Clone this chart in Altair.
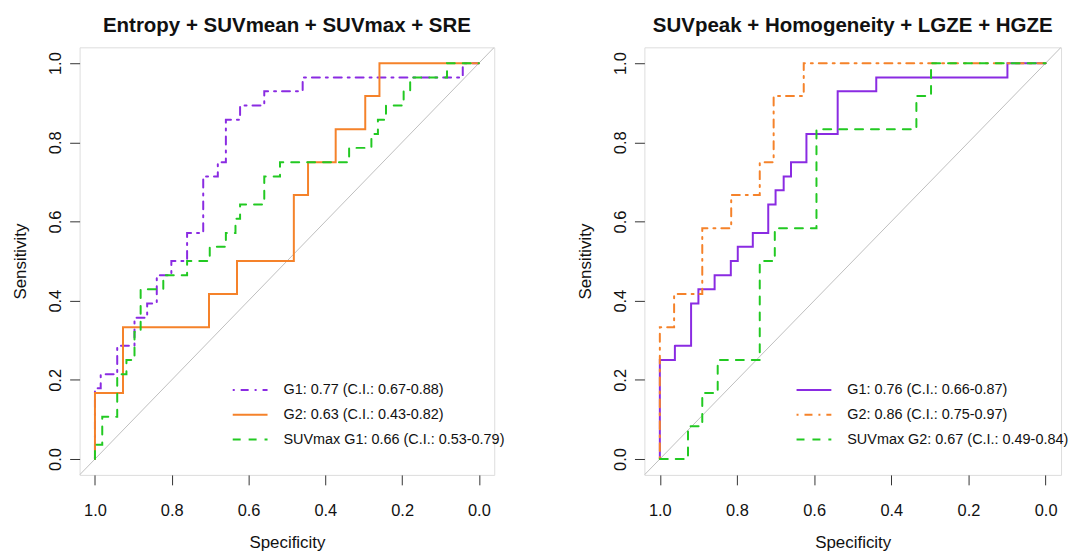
import altair as alt
import pandas as pd

FONT = "Liberation Sans"

# ---------------- data (specificity, sensitivity vertices of ROC curves) ----------------
# Left panel: Entropy + SUVmean + SUVmax + SRE
L_LABELS = ["G1: 0.77 (C.I.: 0.67-0.88)", "G2: 0.63 (C.I.: 0.43-0.82)", "SUVmax G1: 0.66 (C.I.: 0.53-0.79)"]

L_G1_SPEC = [1.0, 1.0, 0.985, 0.985, 0.942, 0.942, 0.897, 0.897, 0.864, 0.864, 0.839, 0.839,
             0.801, 0.801, 0.760, 0.760, 0.718, 0.718, 0.680, 0.680, 0.659, 0.659, 0.622, 0.622,
             0.559, 0.559, 0.459, 0.459, 0.042, 0.042, 0.0]
L_G1_SENS = [0.0, 0.179, 0.179, 0.214, 0.214, 0.286, 0.286, 0.357, 0.357, 0.393, 0.393, 0.464,
             0.464, 0.5, 0.5, 0.571, 0.571, 0.714, 0.714, 0.75, 0.75, 0.857, 0.857, 0.893,
             0.893, 0.929, 0.929, 0.964, 0.964, 1.0, 1.0]

L_G2_SPEC = [1.0, 1.0, 0.927, 0.927, 0.703, 0.703, 0.630, 0.630, 0.482, 0.482, 0.445, 0.445,
             0.373, 0.373, 0.296, 0.296, 0.259, 0.259, 0.0]
L_G2_SENS = [0.0, 0.167, 0.167, 0.333, 0.333, 0.417, 0.417, 0.5, 0.5, 0.667, 0.667, 0.75,
             0.75, 0.833, 0.833, 0.917, 0.917, 1.0, 1.0]

L_SUV_SPEC = [1.0, 1.0, 0.981, 0.981, 0.942, 0.942, 0.918, 0.918, 0.897, 0.897, 0.881, 0.881,
              0.822, 0.822, 0.760, 0.760, 0.701, 0.701, 0.659, 0.659, 0.634, 0.634, 0.622, 0.622,
              0.559, 0.559, 0.518, 0.518, 0.338, 0.338, 0.280, 0.280, 0.263, 0.263, 0.242, 0.242,
              0.196, 0.196, 0.179, 0.179, 0.083, 0.083, 0.0]
L_SUV_SENS = [0.0, 0.036, 0.036, 0.107, 0.107, 0.214, 0.214, 0.25, 0.25, 0.321, 0.321, 0.429,
              0.429, 0.464, 0.464, 0.5, 0.5, 0.536, 0.536, 0.571, 0.571, 0.607, 0.607, 0.643,
              0.643, 0.714, 0.714, 0.75, 0.75, 0.786, 0.786, 0.821, 0.821, 0.857, 0.857, 0.893,
              0.893, 0.929, 0.929, 0.964, 0.964, 1.0, 1.0]

# Right panel: SUVpeak + Homogeneity + LGZE + HGZE
R_LABELS = ["G1: 0.76 (C.I.: 0.66-0.87)", "G2: 0.86 (C.I.: 0.75-0.97)", "SUVmax G2: 0.67 (C.I.: 0.49-0.84)"]

R_G1_SPEC = [1.0, 1.0, 0.961, 0.961, 0.919, 0.919, 0.900, 0.900, 0.858, 0.858, 0.816, 0.816,
             0.798, 0.798, 0.759, 0.759, 0.719, 0.719, 0.700, 0.700, 0.679, 0.679, 0.660, 0.660,
             0.620, 0.620, 0.539, 0.539, 0.439, 0.439, 0.099, 0.099, 0.0]
R_G1_SENS = [0.0, 0.25, 0.25, 0.286, 0.286, 0.393, 0.393, 0.429, 0.429, 0.464, 0.464, 0.5,
             0.5, 0.536, 0.536, 0.571, 0.571, 0.643, 0.643, 0.679, 0.679, 0.714, 0.714, 0.75,
             0.75, 0.821, 0.821, 0.929, 0.929, 0.964, 0.964, 1.0, 1.0]

R_G2_SPEC = [1.0, 1.0, 0.963, 0.963, 0.890, 0.890, 0.815, 0.815, 0.741, 0.741, 0.705, 0.705,
             0.627, 0.627, 0.0]
R_G2_SENS = [0.0, 0.333, 0.333, 0.417, 0.417, 0.583, 0.583, 0.667, 0.667, 0.75, 0.75, 0.917,
             0.917, 1.0, 1.0]

R_SUV_SPEC = [1.0, 0.927, 0.927, 0.890, 0.890, 0.850, 0.850, 0.741, 0.741, 0.702, 0.702, 0.594,
              0.594, 0.335, 0.335, 0.297, 0.297, 0.0]
R_SUV_SENS = [0.0, 0.0, 0.083, 0.083, 0.167, 0.167, 0.25, 0.25, 0.5, 0.5, 0.583, 0.583,
              0.833, 0.833, 0.917, 0.917, 1.0, 1.0]

DIAG_SPEC = [1.04, -0.04]
DIAG_SENS = [-0.04, 1.04]
TICKS = [0.0, 0.2, 0.4, 0.6, 0.8, 1.0]

PURPLE = "#8A2BE2"
ORANGE = "#F5822A"
GREEN = "#22C922"
DOTDASH = [2, 6, 8, 6]
SOLID = [1, 0]
DASHED = [8, 8]


def panel(title, labels, curves, colors, dashes, width, legend_x):
    rows = []
    for lab, (spec, sens) in zip(labels, curves):
        for i, (s, e) in enumerate(zip(spec, sens)):
            rows.append({"series": lab, "spec": s, "sens": e, "i": i})
    df = pd.DataFrame(rows)
    diag = pd.DataFrame({"spec": DIAG_SPEC, "sens": DIAG_SENS})

    xs = alt.Scale(domain=[-0.04, 1.04], reverse=True, nice=False, zero=False)
    ys = alt.Scale(domain=[-0.04, 1.04], nice=False, zero=False)
    xaxis = alt.Axis(values=TICKS, format=".1f", title="Specificity", grid=False, domain=False,
                     tickSize=10, tickColor="#333", labelFontSize=16.5, labelFont=FONT,
                     labelColor="#111", labelPadding=18, titleFont=FONT, titleFontSize=17,
                     titleFontWeight="normal", titleColor="#111", titlePadding=16, labelFlush=False)
    yaxis = alt.Axis(values=TICKS, format=".1f", title="Sensitivity", grid=False, domain=False,
                     tickSize=10, tickColor="#333", labelFontSize=16.5, labelFont=FONT,
                     labelColor="#111", labelAngle=270, labelAlign="center",
                     labelBaseline="alphabetic", labelPadding=9, titleFont=FONT,
                     titleFontSize=17, titleFontWeight="normal", titleColor="#111",
                     titlePadding=18, labelFlush=False)

    legend = alt.Legend(title=None, orient="none", legendX=legend_x, legendY=326,
                        symbolType="stroke", symbolSize=1225, symbolStrokeWidth=2,
                        labelFont=FONT, labelFontSize=14.5, labelColor="#111", labelOffset=15,
                        rowPadding=-5, padding=0, labelLimit=400)

    d = alt.Chart(diag).mark_line(color="#BEBEBE", strokeWidth=1, clip=True).encode(
        x=alt.X("spec:Q", scale=xs, axis=xaxis),
        y=alt.Y("sens:Q", scale=ys, axis=yaxis),
    )
    lines = alt.Chart(df).mark_line(strokeWidth=2, clip=True, strokeCap="round").encode(
        x=alt.X("spec:Q", scale=xs, axis=xaxis),
        y=alt.Y("sens:Q", scale=ys, axis=yaxis),
        color=alt.Color("series:N", scale=alt.Scale(domain=labels, range=colors), legend=legend),
        strokeDash=alt.StrokeDash("series:N", scale=alt.Scale(domain=labels, range=dashes), legend=legend),
        order=alt.Order("i:Q"),
    )
    return alt.layer(d, lines).properties(
        width=width, height=430,
        title=alt.TitleParams(title, font=FONT, fontSize=20.6, fontWeight="bold", color="#111",
                              frame="group", anchor="middle", offset=11),
    )


left = panel("Entropy + SUVmean + SUVmax + SRE", L_LABELS,
             [(L_G1_SPEC, L_G1_SENS), (L_G2_SPEC, L_G2_SENS), (L_SUV_SPEC, L_SUV_SENS)],
             [PURPLE, ORANGE, GREEN], [DOTDASH, SOLID, DASHED], 417, 153)
right = panel("SUVpeak + Homogeneity + LGZE + HGZE", R_LABELS,
              [(R_G1_SPEC, R_G1_SENS), (R_G2_SPEC, R_G2_SENS), (R_SUV_SPEC, R_SUV_SENS)],
              [PURPLE, ORANGE, GREEN], [SOLID, DOTDASH, DASHED], 419, 152)

chart = alt.hconcat(left, right, spacing=70).resolve_scale(
    color="independent", strokeDash="independent"
).configure_view(stroke="#333", strokeWidth=1).configure(
    background="white", padding={"left": 3, "top": 5, "right": 0, "bottom": 0}
)

chart.save("out.html", embed_options={"renderer": "svg", "actions": False})
